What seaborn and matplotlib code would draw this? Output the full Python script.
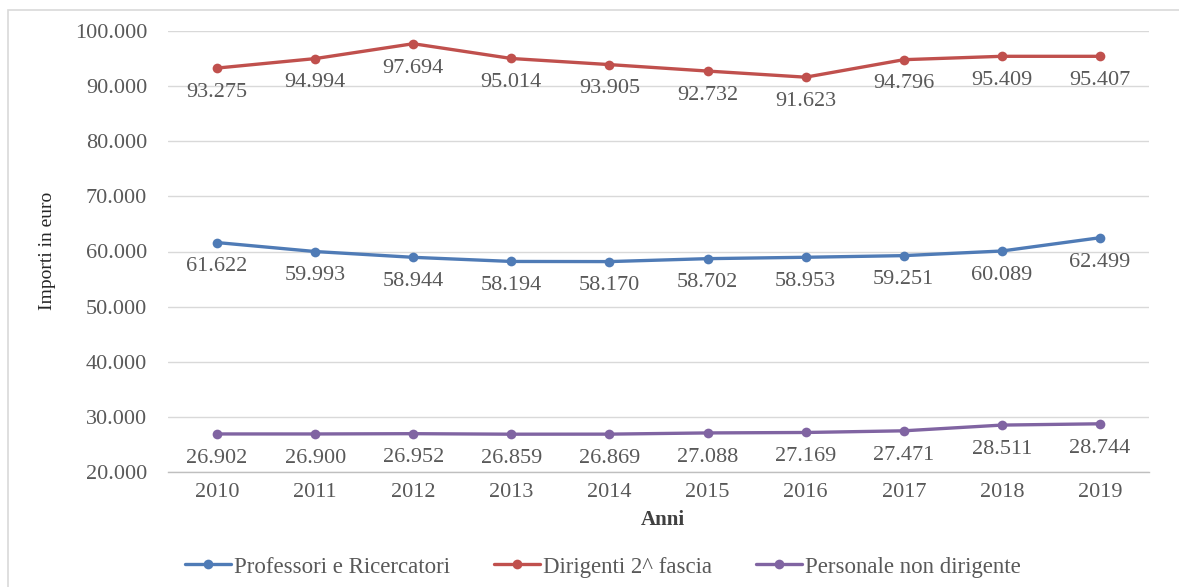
import matplotlib
matplotlib.use("Agg")
import matplotlib.pyplot as plt
import matplotlib.ticker as mticker
from matplotlib.patches import Rectangle
import pandas as pd
import seaborn as sns

# Average yearly pay by staff category (euro)
years = [2010, 2011, 2012, 2013, 2014, 2015, 2016, 2017, 2018, 2019]
professori = [61622, 59993, 58944, 58194, 58170, 58702, 58953, 59251, 60089, 62499]
dirigenti = [93275, 94994, 97694, 95014, 93905, 92732, 91623, 94796, 95409, 95407]
personale = [26902, 26900, 26952, 26859, 26869, 27088, 27169, 27471, 28511, 28744]

series_names = ["Professori e Ricercatori", "Dirigenti 2^ fascia", "Personale non dirigente"]
series_values = [professori, dirigenti, personale]
palette = ["#4f7bb6", "#c0504d", "#8064a2"]

y_ticks = [20000, 30000, 40000, 50000, 60000, 70000, 80000, 90000, 100000]

rows = []
for name, vals in zip(series_names, series_values):
    for i, (yr, v) in enumerate(zip(years, vals)):
        rows.append({"pos": i, "Anni": str(yr), "Importo": v, "Serie": name})
df = pd.DataFrame(rows)

sns.set_theme(style="white")
plt.rcParams["font.family"] = ["Liberation Serif", "DejaVu Serif"]

W, H = 1179, 587
fig = plt.figure(figsize=(W / 100, H / 100), dpi=100)
ax = fig.add_axes([168 / W, 1 - 472 / H, (1149 - 168) / W, (472 - 31) / H])

sns.lineplot(data=df, x="pos", y="Importo", hue="Serie", hue_order=series_names,
             palette=palette, marker="o", markersize=7, markeredgewidth=0,
             linewidth=2.4, ax=ax, legend=True)

fmt = lambda v: f"{v:,.0f}".replace(",", ".")

for name, vals, col in zip(series_names, series_values, palette):
    for i, v in enumerate(vals):
        ax.annotate(fmt(v), (i, v), xytext=(0, -17.5), textcoords="offset points",
                    ha="center", va="center", fontsize=16, color="#595959")

ax.set_xlim(-0.5, len(years) - 0.5)
ax.set_ylim(y_ticks[0], y_ticks[-1])
ax.set_xticks(range(len(years)))
ax.set_xticklabels([str(y) for y in years])
ax.set_yticks(y_ticks)
ax.yaxis.set_major_formatter(mticker.FuncFormatter(lambda v, p: fmt(v)))
ax.tick_params(axis="both", length=0, labelsize=16, colors="#595959")
ax.tick_params(axis="x", pad=8)
ax.tick_params(axis="y", pad=15)

ax.grid(axis="y", color="#d9d9d9", linewidth=1)
ax.set_axisbelow(True)
for s in ["top", "right", "left"]:
    ax.spines[s].set_visible(False)
ax.spines["bottom"].set_color("#bfbfbf")
ax.spines["bottom"].set_linewidth(1)

ax.set_xlabel("")
ax.set_ylabel("")
fig.text(48 / W, 1 - 251 / H, "Importi in euro", rotation=90, ha="center", va="center",
         fontsize=14, color="#262626")
fig.text(663 / W, 1 - 520 / H, "Anni", ha="center", va="center",
         fontsize=15, fontweight="bold", color="#404040")

handles, labels = ax.get_legend_handles_labels()
ax.get_legend().remove()
fig.legend(handles, labels, loc="center", bbox_to_anchor=(603 / W, 1 - 567 / H),
           ncol=3, frameon=False, fontsize=16.5, labelcolor="#595959",
           handlelength=2.0, handletextpad=0.15, columnspacing=1.9)

# outer chart frame
fig.patches.append(Rectangle((8 / W, -0.05), 1.2, 1 - 10 / H + 0.05,
                             transform=fig.transFigure, fill=False,
                             edgecolor="#d9d9d9", linewidth=1.2))

fig.savefig("out.png", dpi=100)
